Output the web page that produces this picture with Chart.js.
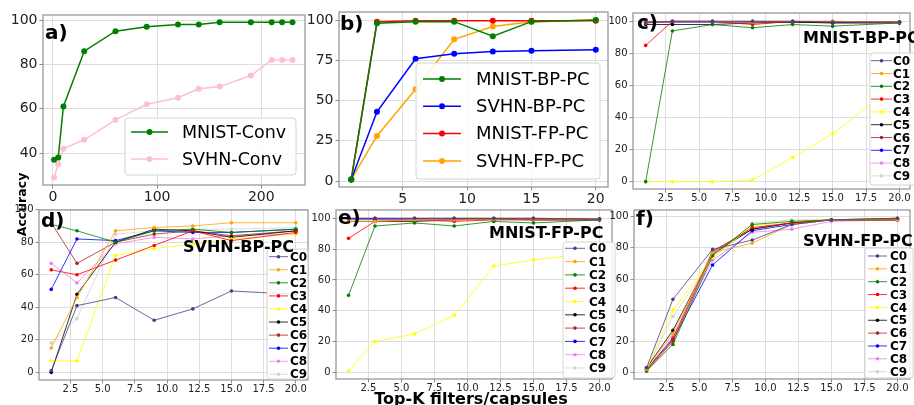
<!DOCTYPE html>
<html>
<head>
<meta charset="utf-8">
<script src="https://cdn.jsdelivr.net/npm/chart.js@4.4.0/dist/chart.umd.min.js"></script>
<style>
  body { margin: 0; background: #fff; }
  #wrap { position: relative; width: 914px; height: 405px; overflow: hidden; }
  canvas { position: absolute; left: 0; top: 0; }
</style>
</head>
<body>
<div id="wrap">
  <canvas id="pa" width="914" height="405"></canvas>
  <canvas id="pb" width="914" height="405"></canvas>
  <canvas id="pc" width="914" height="405"></canvas>
  <canvas id="pd" width="914" height="405"></canvas>
  <canvas id="pe" width="914" height="405"></canvas>
  <canvas id="pf" width="914" height="405"></canvas>
</div>
<script>
// panel a) conv filters
const convFilters = [1, 5, 10, 30, 60, 90, 120, 140, 160, 190, 210, 220, 230];
const mnistConv = [37, 38, 61, 86, 95, 97, 98, 98, 99, 99, 99, 99, 99];
const svhnConv  = [29, 35, 42, 46, 55, 62, 65, 69, 70, 75, 82, 82, 82];

// panel b) top-k capsules
const topK = [1, 3, 6, 9, 12, 15, 20];
const mnistBpPc = [1, 98, 99, 99, 90, 99, 100];
const svhnBpPc  = [1, 43, 76, 79, 80.5, 81, 81.5];
const mnistFpPc = [1, 99, 99.5, 99.5, 99.5, 99.5, 99.5];
const svhnFpPc  = [1, 28, 57, 88, 96, 99, 100];

// per class panels c) - f), rows C0..C9
const classLabels = ['C0', 'C1', 'C2', 'C3', 'C4', 'C5', 'C6', 'C7', 'C8', 'C9'];
const classMnistBp = [
  [99, 100, 100, 100, 100, 99.5, 99.5],
  [99, 100, 100, 99.5, 100, 100, 99.5],
  [0, 94, 98, 96, 98, 97, 99],
  [85, 100, 100, 98, 100, 100, 99.5],
  [0, 0, 0, 1, 15, 30, 62],
  [98, 98, 98, 99, 99.5, 99, 99],
  [99.5, 100, 100, 100, 100, 99.5, 99.5],
  [99.5, 99.5, 99.5, 99.5, 99.5, 99.5, 99.5],
  [100, 100, 100, 100, 100, 99, 99],
  [99, 99.5, 99.5, 99, 99.5, 99.5, 99.5]
];
const classSvhnBp = [
  [1, 41, 46, 32, 39, 50, 48],
  [15, 46, 87, 89, 90, 92, 92],
  [91, 87, 80, 87, 88, 86, 88],
  [63, 60, 69, 78, 87, 81, 86],
  [7, 7, 72, 76, 79, 82, 85],
  [0, 48, 80, 88, 87, 83, 87],
  [92, 67, 80, 85, 87, 84, 87],
  [51, 82, 81, 87, 86, 86, 88],
  [67, 55, 79, 83, 82, 84, 85],
  [18, 33, 85, 87, 88, 88, 89]
];
const classMnistFp = [
  [100, 100, 100, 100, 100, 100, 99.5],
  [98, 98, 99, 99, 99.5, 99.5, 99.5],
  [50, 95, 97, 95, 98, 97, 99],
  [87, 98, 99, 98, 99, 99, 99],
  [1, 20, 25, 37, 69, 73, 78],
  [98, 98, 98, 99, 99.5, 99, 99],
  [100, 100, 100, 100, 100, 100, 99.5],
  [99.5, 99.5, 99.5, 99.5, 99.5, 99.5, 99.5],
  [99.5, 99.5, 99.5, 99.5, 99.5, 99, 99],
  [100, 100, 100, 100, 100, 100, 100]
];
const classSvhnFp = [
  [3, 47, 79, 85, 95, 98, 99],
  [2, 25, 77, 83, 95, 98, 98],
  [1, 18, 75, 95, 97, 98, 99],
  [1, 20, 77, 93, 96, 98, 98],
  [2, 40, 74, 94, 97, 98, 99],
  [3, 27, 76, 92, 96, 98, 98],
  [2, 22, 78, 92, 96, 98, 98],
  [2, 21, 69, 91, 95, 98, 98],
  [1, 23, 72, 90, 92, 97, 98],
  [2, 36, 73, 96, 98, 98, 99]
];

const convTicks = [0, 100, 200];
const accTicksA = [40, 60, 80, 100];
const accTicksB = [0, 25, 50, 75, 100];
const accTicksC = [0, 20, 40, 60, 80, 100];
const kTicks = [5, 10, 15, 20];
const kTicksFine = [2.5, 5, 7.5, 10, 12.5, 15, 17.5, 20];

const classColors = ['#483d8b', '#ffa500', '#008000', '#ff0000', '#ffff00', '#000000', '#a52a2a', '#0000ff', '#ee82ee', '#d3d3d3'];
const FONT = "'DejaVu Sans'";
const W = 914, H = 405;

function pts(xs, ys) { return xs.map((x, i) => ({ x: x, y: ys[i] })); }

function lineSet(label, xs, ys, color, r, lw) {
  return {
    label: label, data: pts(xs, ys), showLine: true,
    borderColor: color, backgroundColor: color, pointBackgroundColor: color,
    pointBorderWidth: 0, pointRadius: r, borderWidth: lw
  };
}

function classSets(rows) {
  return classLabels.map((lab, i) => {
    let ds = lineSet(lab, topK, rows[i], classColors[i], 1.8, 1);
    ds.borderColor = classColors[i] + 'cc';
    return ds;
  });
}

// frame, legend box, panel letter and title
const deco = {
  id: 'deco',
  afterDatasetsDraw(chart, args, o) {
    const ctx = chart.ctx, a = chart.chartArea;
    ctx.save();
    ctx.strokeStyle = '#8f8f8f';
    ctx.lineWidth = 1.2;
    ctx.strokeRect(a.left, a.top, a.right - a.left, a.bottom - a.top);

    const L = o.legend;
    if (L) {
      ctx.beginPath();
      ctx.roundRect(L.x, L.y, L.w, L.h, 3);
      ctx.fillStyle = 'rgba(255,255,255,0.85)';
      ctx.fill();
      ctx.strokeStyle = '#d4d4d4';
      ctx.lineWidth = 1;
      ctx.stroke();
      chart.data.datasets.forEach((ds, i) => {
        const y = L.y0 + i * L.dy;
        ctx.strokeStyle = ds.borderColor;
        ctx.lineWidth = ds.borderWidth;
        ctx.beginPath();
        ctx.moveTo(L.hx0, y);
        ctx.lineTo(L.hx1, y);
        ctx.stroke();
        ctx.fillStyle = ds.pointBackgroundColor;
        ctx.beginPath();
        ctx.arc((L.hx0 + L.hx1) / 2, y, ds.pointRadius, 0, Math.PI * 2);
        ctx.fill();
        ctx.fillStyle = '#000';
        ctx.font = L.font;
        ctx.textAlign = 'left';
        ctx.textBaseline = 'middle';
        ctx.fillText(ds.label, L.tx, y + 1);
      });
    }
    ctx.fillStyle = '#000';
    ctx.textAlign = 'left';
    ctx.textBaseline = 'alphabetic';
    ctx.font = 'bold 20px ' + FONT;
    ctx.fillText(o.letter.t, o.letter.x, o.letter.y);
    if (o.title) {
      ctx.font = 'bold 16px ' + FONT;
      ctx.textBaseline = 'middle';
      ctx.fillText(o.title.t, o.title.x, o.title.y);
    }
    if (o.texts) {
      o.texts.forEach(t => {
        ctx.save();
        ctx.font = t.font;
        ctx.textAlign = 'center';
        ctx.textBaseline = t.base;
        ctx.translate(t.x, t.y);
        ctx.rotate(t.rot || 0);
        ctx.fillText(t.t, 0, 0);
        ctx.restore();
      });
    }
    ctx.restore();
  }
};

function panel(id, g, datasets, decoOpts) {
  const axis = (min, max, ticks, fmt, size, isX) => ({
    type: 'linear', min: min, max: max,
    afterBuildTicks: s => { s.ticks = ticks.map(v => ({ value: v })); },
    afterFit: s => { if (isX) s.height = H - g.bottom; else s.width = g.left; },
    grid: { color: '#dedede', lineWidth: 1, tickColor: '#8f8f8f', tickLength: 3.5 },
    border: { display: false },
    ticks: {
      font: { family: FONT, size: size }, color: '#222',
      padding: isX ? 0 : 2, maxRotation: 0, autoSkip: false,
      callback: fmt
    }
  });
  return new Chart(document.getElementById(id), {
    type: 'scatter',
    data: { datasets: datasets },
    options: {
      responsive: false, animation: false, devicePixelRatio: 1,
      layout: { padding: { left: 0, top: g.top, right: W - g.right, bottom: 0 } },
      plugins: { legend: { display: false }, tooltip: { enabled: false }, deco: decoOpts },
      scales: {
        x: axis(g.xMin, g.xMax, g.xTicks, g.xFmt, g.fs, true),
        y: axis(g.yMin, g.yMax, g.yTicks, v => v, g.fs, false)
      }
    },
    plugins: [deco]
  });
}

const plain = v => v;
const oneDec = v => v.toFixed(1);
const classLegendFont = 'bold 12px ' + FONT;

panel('pa', { left: 43, top: 15, right: 305, bottom: 185, xMin: -9.6, xMax: 242, yMin: 25.6, yMax: 102.3,
  xTicks: convTicks, yTicks: accTicksA, xFmt: plain, fs: 14 },
  [lineSet('MNIST-Conv', convFilters, mnistConv, '#008000', 3, 1.5),
   lineSet('SVHN-Conv', convFilters, svhnConv, '#ffc0cb', 3, 1.5)],
  { letter: { t: 'a)', x: 45, y: 39 },
    legend: { x: 125, y: 118, w: 171, h: 57, hx0: 131, hx1: 168, tx: 182, y0: 132, dy: 27, font: '17.5px ' + FONT },
    texts: [{ t: 'Accuracy', x: 23, y: 204.5, rot: -Math.PI / 2, base: 'middle', font: 'bold 12.5px ' + FONT }] });

panel('pb', { left: 339, top: 12, right: 608, bottom: 187, xMin: 0.05, xMax: 20.95, yMin: -3.7, yMax: 105,
  xTicks: kTicks, yTicks: accTicksB, xFmt: plain, fs: 14 },
  [lineSet('MNIST-BP-PC', topK, mnistBpPc, '#008000', 3, 1.5),
   lineSet('SVHN-BP-PC', topK, svhnBpPc, '#0000ff', 3, 1.5),
   lineSet('MNIST-FP-PC', topK, mnistFpPc, '#ff0000', 3, 1.5),
   lineSet('SVHN-FP-PC', topK, svhnFpPc, '#ffa500', 3, 1.5)],
  { letter: { t: 'b)', x: 340, y: 30 },
    legend: { x: 416, y: 63, w: 184, h: 116, hx0: 423, hx1: 461, tx: 476, y0: 79, dy: 27.3, font: '18px ' + FONT } });

panel('pc', { left: 633, top: 13, right: 914, bottom: 189, xMin: 0.05, xMax: 20.79, yMin: -4.6, yMax: 105.2,
  xTicks: kTicksFine, yTicks: accTicksC, xFmt: oneDec, fs: 10 },
  classSets(classMnistBp),
  { letter: { t: 'c)', x: 637, y: 29 }, title: { t: 'MNIST-BP-PC', x: 803, y: 38.5 },
    legend: { x: 870, y: 53, w: 50, h: 132, hx0: 871, hx1: 892, tx: 893, y0: 60.7, dy: 12.8, font: classLegendFont } });

panel('pd', { left: 39, top: 210, right: 308, bottom: 380, xMin: 0.05, xMax: 20.95, yMin: -4.7, yMax: 99.8,
  xTicks: kTicksFine, yTicks: accTicksC, xFmt: oneDec, fs: 10 },
  classSets(classSvhnBp),
  { letter: { t: 'd)', x: 41, y: 227 }, title: { t: 'SVHN-BP-PC', x: 183, y: 247.5 },
    legend: { x: 267, y: 249, w: 41, h: 130, hx0: 269, hx1: 288, tx: 290, y0: 256.7, dy: 13.07, font: classLegendFont } });

panel('pe', { left: 336, top: 210, right: 612, bottom: 379, xMin: 0.05, xMax: 20.95, yMin: -4.3, yMax: 105.4,
  xTicks: kTicksFine, yTicks: accTicksC, xFmt: oneDec, fs: 10 },
  classSets(classMnistFp),
  { letter: { t: 'e)', x: 338, y: 224 }, title: { t: 'MNIST-FP-PC', x: 489, y: 233.5 },
    legend: { x: 563, y: 242, w: 52, h: 136, hx0: 565, hx1: 585, tx: 589, y0: 248.3, dy: 13.3, font: classLegendFont },
    texts: [{ t: 'Top-K filters/capsules', x: 471, y: 404, base: 'alphabetic', font: 'bold 16px ' + FONT }] });

panel('pf', { left: 634, top: 210, right: 913, bottom: 379, xMin: 0.05, xMax: 20.95, yMin: -4.2, yMax: 104.3,
  xTicks: kTicksFine, yTicks: accTicksC, xFmt: oneDec, fs: 10 },
  classSets(classSvhnFp),
  { letter: { t: 'f)', x: 636, y: 225 }, title: { t: 'SVHN-FP-PC', x: 803, y: 241.5 },
    legend: { x: 865, y: 248, w: 48, h: 130, hx0: 868, hx1: 887, tx: 890, y0: 256, dy: 12.85, font: classLegendFont } });
</script>
</body>
</html>
